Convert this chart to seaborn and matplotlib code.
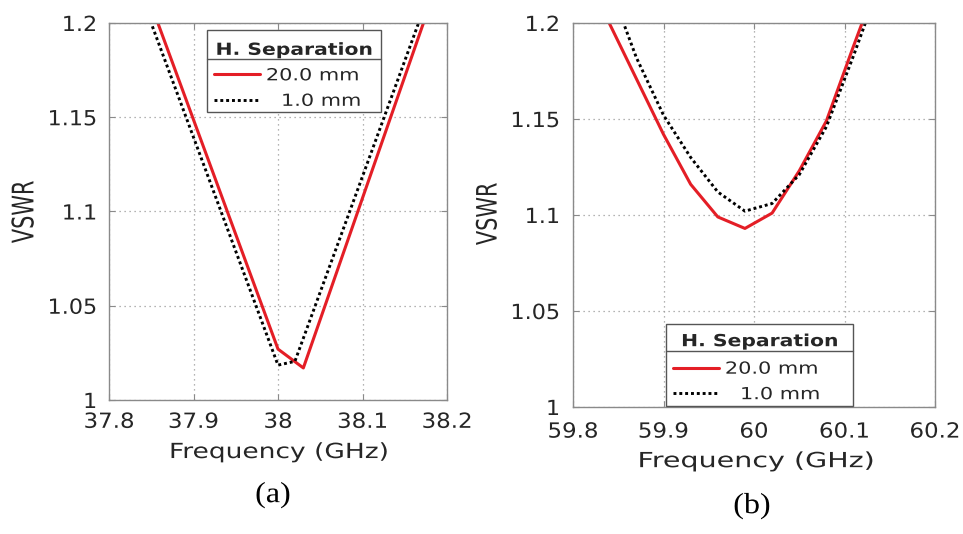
import matplotlib
matplotlib.use("Agg")
import matplotlib.pyplot as plt
import seaborn as sns
import pandas as pd
from matplotlib.patheffects import AbstractPathEffect
from matplotlib.transforms import Affine2D
from matplotlib.lines import Line2D

# ---------------- data ----------------
freq_a_20 = [37.84, 38.00, 38.03, 38.19]
vswr_a_20 = [1.2217, 1.027, 1.017, 1.223]
freq_a_1 = [37.83, 38.00, 38.02, 38.19]
vswr_a_1 = [1.224, 1.0185, 1.0205, 1.229]

freq_b = [59.84, 59.87, 59.90, 59.93, 59.96, 59.99, 60.02, 60.05, 60.08, 60.11, 60.14]
vswr_b_20 = [1.200, 1.171, 1.142, 1.116, 1.099, 1.093, 1.101, 1.123, 1.149, 1.188, 1.226]
vswr_b_1 = [1.220, 1.182, 1.152, 1.130, 1.112, 1.102, 1.106, 1.121, 1.146, 1.183, 1.222]

labels = ["20.0 mm", "1.0 mm"]
legend_title = "H. Separation"
xticks_a = [37.8, 37.9, 38.0, 38.1, 38.2]
xticks_b = [59.8, 59.9, 60.0, 60.1, 60.2]
yticks = [1.0, 1.05, 1.1, 1.15, 1.2]
captions = ["(a)", "(b)"]

RED = "#e41e26"


class Stretch(AbstractPathEffect):
    """Horizontally stretch a text path around an anchor (optionally shift it)."""
    def __init__(self, sx=1.0, anchor="center", dx=0.0, dy=0.0):
        super().__init__()
        self.sx, self.anchor, self.dx, self.dy = sx, anchor, dx, dy

    def draw_path(self, renderer, gc, tpath, affine, rgbFace=None):
        ext = affine.transform_path(tpath).get_extents()
        if self.anchor == "left":
            cx = ext.x0
        elif self.anchor == "right":
            cx = ext.x1
        else:
            cx = 0.5 * (ext.x0 + ext.x1)
        t = affine + Affine2D().translate(-cx, 0).scale(self.sx, 1).translate(cx + self.dx, self.dy)
        renderer.draw_path(gc, tpath, t, rgbFace)


sns.set_theme(style="white")
plt.rcParams["font.family"] = ["DejaVu Sans"]

fig = plt.figure(figsize=(9.63, 5.34), dpi=100)
W, H = 963, 534
ax_a = fig.add_axes([109 / W, 1 - 400 / H, 338 / W, 377 / H])
ax_b = fig.add_axes([573 / W, 1 - 407 / H, 362 / W, 384 / H])

df_a20 = pd.DataFrame({"f": freq_a_20, "v": vswr_a_20})
df_a1 = pd.DataFrame({"f": freq_a_1, "v": vswr_a_1})
df_b20 = pd.DataFrame({"f": freq_b, "v": vswr_b_20})
df_b1 = pd.DataFrame({"f": freq_b, "v": vswr_b_1})

panels = [
    (ax_a, df_a20, df_a1, xticks_a, dict(xpad=8.5, ypad=8.6, xl=(0.503, -0.138), yl=(-0.251, 0.499),
                                         sx_x=1.27, sx_y=1.43, tdy=-4, edy=-4, sdy=-3,
                                         leg_loc="upper left", leg_bb=(0.290, 0.971, 0.515, 0.01))),
    (ax_b, df_b20, df_b1, xticks_b, dict(xpad=10.5, ypad=9.4, xl=(0.506, -0.141), yl=(-0.235, 0.503),
                                         sx_x=1.37, sx_y=1.35, tdy=-2, edy=-4, sdy=-2,
                                         leg_loc="lower left", leg_bb=(0.257, 0.003, 0.517, 0.01))),
]

legends = []
for ax, d20, d1, xt, o in panels:
    sns.lineplot(data=d20, x="f", y="v", ax=ax, color=RED, lw=2.2, label=labels[0])
    sns.lineplot(data=d1, x="f", y="v", ax=ax, color="black", lw=2.1,
                 linestyle=(0, (1, 1)), label=labels[1])
    ax.set_xlim(xt[0], xt[-1])
    ax.set_ylim(yticks[0], yticks[-1])
    ax.set_xticks(xt)
    ax.set_yticks(yticks)
    ax.set_xticklabels([f"{v:g}" for v in xt])
    ax.set_yticklabels([f"{v:g}" for v in yticks])
    ax.grid(True, color="#9a9a9a", lw=0.9, linestyle=(0, (1, 3)))
    for s in ax.spines.values():
        s.set_color("#8a8a8a")
        s.set_linewidth(1.0)
    ax.tick_params(axis="x", direction="in", length=4, width=0.8, color="#8a8a8a",
                   top=True, bottom=True, labelsize=15, labelcolor="#262626", pad=o["xpad"])
    ax.tick_params(axis="y", direction="in", length=4, width=0.8, color="#8a8a8a",
                   left=True, right=True, labelsize=15, labelcolor="#262626", pad=o["ypad"])
    for t in ax.get_xticklabels():
        t.set_path_effects([Stretch(1.1)])
    for t in ax.get_yticklabels():
        t.set_path_effects([Stretch(1.07, anchor="right")])

    xlab = ax.set_xlabel("Frequency (GHz)", fontsize=15, color="#262626")
    xlab.set_va("center")
    ax.xaxis.set_label_coords(*o["xl"])
    xlab.set_path_effects([Stretch(o["sx_x"])])

    ylab = ax.set_ylabel("VSWR", fontsize=15, color="#262626")
    ylab.set_va("center")
    ylab.set_ha("center")
    ax.yaxis.set_label_coords(*o["yl"])
    ylab.set_path_effects([Stretch(o["sx_y"])])

    leg = ax.legend(title=legend_title, loc=o["leg_loc"], bbox_to_anchor=o["leg_bb"],
                    mode="expand", fontsize=12,
                    title_fontproperties={"weight": "bold", "size": 12},
                    frameon=True, fancybox=False, edgecolor="#555555", framealpha=1,
                    borderpad=0.4, labelspacing=0.45, handlelength=2.75,
                    handletextpad=0.4, borderaxespad=0)
    leg.get_frame().set_linewidth(1.0)
    leg.get_title().set_path_effects([Stretch(1.22, dy=o["tdy"])])
    fs_px = 12 * 100 / 72
    digit_w = 0.636 * fs_px * 1.25
    texts = leg.get_texts()
    texts[0].set_path_effects([Stretch(1.25, anchor="left", dy=o["edy"])])
    texts[1].set_path_effects([Stretch(1.25, anchor="left", dx=digit_w + 2, dy=o["edy"])])
    for ln in leg.get_lines():
        ln.set_transform(ln.get_transform() + Affine2D().translate(0, o["edy"]))
    leg._sep_dy = o["sdy"]
    legends.append(leg)

fig.text(273 / W, 1 - 495 / H, captions[0], ha="center", va="center",
         family="Liberation Serif", fontsize=21, color="black",
         path_effects=[Stretch(1.1)])
fig.text(752 / W, 1 - 506 / H, captions[1], ha="center", va="center",
         family="Liberation Serif", fontsize=21, color="black",
         path_effects=[Stretch(1.1)])

# separator line under legend titles (MATLAB style)
fig.canvas.draw()
r = fig.canvas.get_renderer()
inv = fig.transFigure.inverted()
for leg in legends:
    fb = leg.get_frame().get_window_extent(r)
    tb = leg.get_title().get_window_extent(r)
    y = tb.y0 - 1 + leg._sep_dy
    (x0, y0f), (x1, _) = inv.transform([(fb.x0, y), (fb.x1, y)])
    fig.add_artist(Line2D([x0, x1], [y0f, y0f], transform=fig.transFigure,
                          color="#555555", lw=1.0))

fig.savefig("out.png", dpi=100)
